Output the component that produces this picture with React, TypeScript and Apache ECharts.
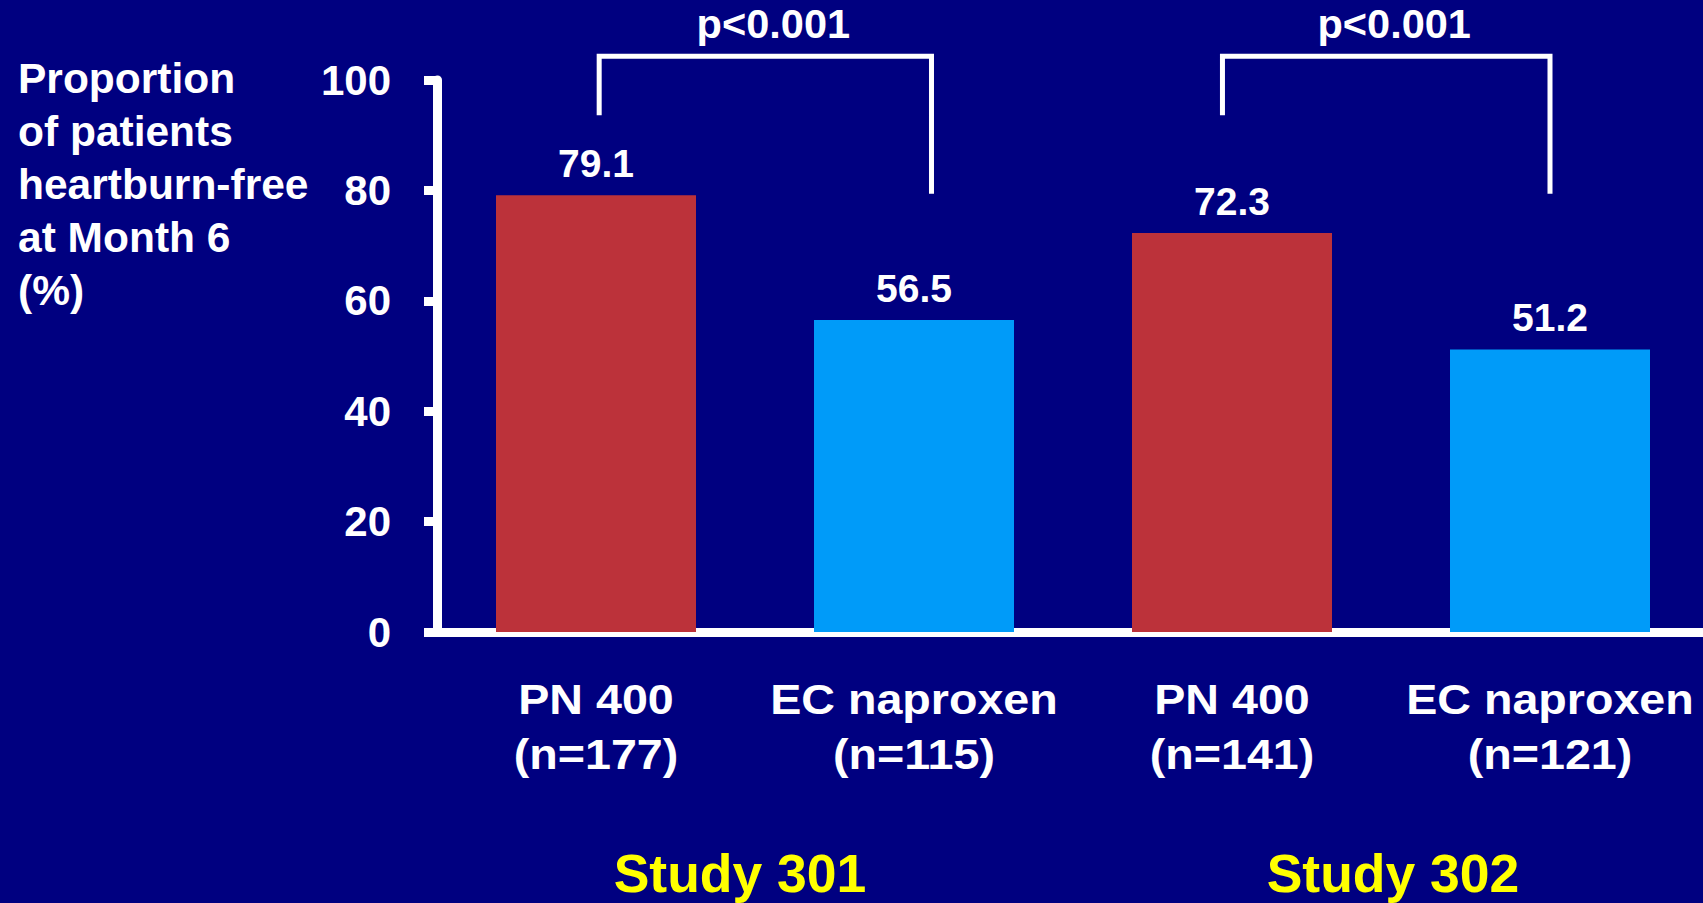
import React, { useEffect, useRef } from "react";
import * as echarts from "echarts";

const categories = ["PN 400\n(n=177)", "EC naproxen\n(n=115)", "PN 400\n(n=141)", "EC naproxen\n(n=121)"];
const values = [79.1, 56.5, 72.3, 51.2];
const treatments = ["PN 400", "EC naproxen", "PN 400", "EC naproxen"];
const studies = ["Study 301", "Study 302"];
const yTicks = [0, 20, 40, 60, 80, 100];
// brackets: [startPosition, endPosition, topValue, leftEndValue, rightEndValue] (positions in category units)
const brackets = [
  [0.01, 1.055, 104.3, 93.6, 79.4],
  [1.97, 3.0, 104.3, 93.6, 79.4],
];
const pLabels = ["p<0.001", "p<0.001"];

const treatmentColors: Record<string, string> = {
  "PN 400": "#BC323A",
  "EC naproxen": "#009BF9",
};

const FONT = 'Arial, "Liberation Sans", Helvetica, sans-serif';

export default function App() {
  const ref = useRef<HTMLDivElement>(null);
  useEffect(() => {
    document.body.style.margin = "0";
    const chart = echarts.init(ref.current!, null, { renderer: "svg" });
    chart.setOption({
      animation: false,
      backgroundColor: "#000080",
      title: {
        text: "Proportion\nof patients\nheartburn-free\nat Month 6\n(%)",
        left: 18,
        top: 52,
        padding: 0,
        textStyle: {
          color: "#ffffff",
          fontFamily: FONT,
          fontWeight: "bold",
          fontSize: 42.5,
          lineHeight: 53,
        },
      },
      grid: {
        left: 437,
        right: -6,
        top: 80,
        bottom: 271,
        containLabel: false,
        outerBoundsMode: "none",
      },
      xAxis: [
        {
          type: "category",
          data: categories,
          axisLine: { show: true, lineStyle: { color: "#ffffff", width: 9 } },
          axisTick: { show: false },
          axisLabel: { show: false },
        },
        {
          type: "category",
          data: studies,
          position: "bottom",
          axisLine: { show: false },
          axisTick: { show: false },
          axisLabel: {
            interval: 0,
            margin: 214,
            formatter: (v: string, i: number) => (i === 0 ? `{l|${v}}` : `{r|${v}}`),
            rich: {
              l: {
                color: "#FFFF00",
                fontFamily: FONT,
                fontWeight: "bold",
                fontSize: 53.5,
                padding: [0, 30, 0, 0],
              },
              r: {
                color: "#FFFF00",
                fontFamily: FONT,
                fontWeight: "bold",
                fontSize: 53.5,
                padding: [0, 0, 0, 4],
              },
            },
          },
        },
      ],
      yAxis: {
        type: "value",
        min: 0,
        max: 100,
        interval: 20,
        splitLine: { show: false },
        axisLine: { show: true, lineStyle: { color: "#ffffff", width: 9 } },
        axisTick: { show: true, length: 13, lineStyle: { color: "#ffffff", width: 9 } },
        axisLabel: {
          color: "#ffffff",
          fontFamily: FONT,
          fontWeight: "bold",
          fontSize: 42,
          margin: 46,
          formatter: (v: number) => (yTicks.includes(v) ? String(v) : ""),
        },
      },
      series: [
        {
          type: "bar",
          xAxisIndex: 0,
          barWidth: 200,
          data: values.map((v, i) => ({
            value: v,
            itemStyle: { color: treatmentColors[treatments[i]] },
          })),
          label: {
            show: true,
            position: "top",
            distance: 12,
            color: "#ffffff",
            fontFamily: FONT,
            fontWeight: "bold",
            fontSize: 39,
            formatter: (p: any) => p.value.toFixed(1),
          },
        },
        {
          type: "custom",
          xAxisIndex: 0,
          clip: false,
          silent: true,
          encode: { x: 0, y: 1 },
          data: categories.map((c, i) => [i, 0]),
          renderItem: (params: any, api: any) => {
            const p = api.coord([api.value(0), 0]);
            return {
              type: "text",
              x: p[0],
              y: p[1] + 40,
              scaleX: 1.11,
              style: {
                text: categories[params.dataIndex],
                fill: "#ffffff",
                font: `bold 42px ${FONT}`,
                lineHeight: 55,
                textAlign: "center",
                textVerticalAlign: "top",
              },
            };
          },
        },
        {
          type: "custom",
          xAxisIndex: 0,
          clip: false,
          silent: true,
          encode: { x: [0, 1], y: [2, 3, 4] },
          data: brackets,
          renderItem: (params: any, api: any) => {
            const b = brackets[params.dataIndex];
            const band = api.size([1, 0])[0];
            const xAt = (pos: number) => {
              const base = Math.round(pos);
              return api.coord([base, 0])[0] + (pos - base) * band;
            };
            const xs = xAt(b[0]);
            const xe = xAt(b[1]);
            const yTop = api.coord([0, b[2]])[1];
            const yL = api.coord([0, b[3]])[1];
            const yR = api.coord([0, b[4]])[1];
            return {
              type: "group",
              children: [
                {
                  type: "polyline",
                  shape: { points: [[xs, yL], [xs, yTop], [xe, yTop], [xe, yR]] },
                  style: { stroke: "#ffffff", lineWidth: 5, fill: null },
                },
                {
                  type: "text",
                  x: (xs + xe) / 2 + 8,
                  y: yTop - 12,
                  style: {
                    text: pLabels[params.dataIndex],
                    fill: "#ffffff",
                    font: `bold 41.5px ${FONT}`,
                    textAlign: "center",
                    textVerticalAlign: "bottom",
                  },
                },
              ],
            };
          },
        },
      ],
    });
    return () => chart.dispose();
  }, []);
  return <div ref={ref} style={{ width: 1703, height: 903, position: "absolute", left: 0, top: 0 }} />;
}
